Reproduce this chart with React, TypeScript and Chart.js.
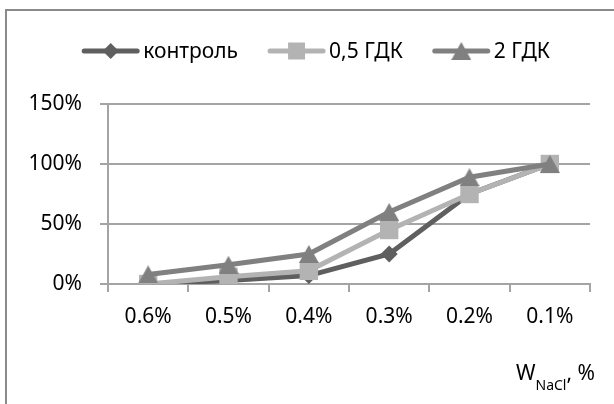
import React, { useEffect, useRef } from 'react';
import { Chart, registerables } from 'chart.js';
import { drawPoint } from 'chart.js/helpers';

Chart.register(...registerables);

// NaCl mass fraction categories (x axis)
const categories = ['0.6%', '0.5%', '0.4%', '0.3%', '0.2%', '0.1%'];

// Series values, %
const seriesNames = ['контроль', '0,5 ГДК', '2 ГДК'];
const control = [0, 3, 7, 25, 75, 100];
const gdk05 = [0, 6, 11, 45, 75, 100];
const gdk2 = [8, 16, 25, 60, 89, 100];

// Value axis
const yMin = 0;
const yMax = 150;
const yStep = 50;

const FONT = '"Noto Sans", "Open Sans", sans-serif';
const COLORS = ['#5f5f5f', '#b3b3b3', '#808080'];
const GRID = '#a4a4a4';

function triangleImage(color: string, w: number, h: number): HTMLCanvasElement {
  const c = document.createElement('canvas');
  c.width = w;
  c.height = h;
  const g = c.getContext('2d')!;
  g.fillStyle = color;
  g.beginPath();
  g.moveTo(w / 2, 0);
  g.lineTo(w, h);
  g.lineTo(0, h);
  g.closePath();
  g.fill();
  return c;
}

// White background and the outer frame
const framePlugin = {
  id: 'frame',
  beforeDraw(chart: any) {
    const ctx = chart.ctx;
    ctx.save();
    ctx.fillStyle = '#ffffff';
    ctx.fillRect(0, 0, chart.width, chart.height);
    ctx.strokeStyle = '#8a8a8a';
    ctx.lineWidth = 2;
    ctx.strokeRect(6, 10, chart.width + 20, chart.height + 20);
    ctx.restore();
  },
};

// Legend with a line sample and marker for every series
const lineLegendPlugin = {
  id: 'lineLegend',
  afterDraw(chart: any) {
    const ctx = chart.ctx;
    const y = 51;
    const sampleLen = 57;
    const textGap = 4;
    const itemGap = 30;
    ctx.save();
    ctx.font = `21px ${FONT}`;
    ctx.textBaseline = 'middle';
    const datasets = chart.data.datasets;
    const widths = datasets.map((d: any) => sampleLen + textGap + ctx.measureText(d.label).width);
    const total = widths.reduce((a: number, b: number) => a + b, 0) + itemGap * (datasets.length - 1);
    let x = 316 - total / 2;
    datasets.forEach((d: any, i: number) => {
      ctx.strokeStyle = d.borderColor;
      ctx.lineWidth = 5;
      ctx.lineCap = 'round';
      ctx.beginPath();
      ctx.moveTo(x + 2, y);
      ctx.lineTo(x + sampleLen - 2, y);
      ctx.stroke();
      ctx.fillStyle = d.backgroundColor;
      const r = d.pointStyle === 'rect' ? 12 : 8;
      drawPoint(
        ctx,
        { pointStyle: d.pointStyle, radius: r, rotation: 0, borderWidth: 0 } as any,
        x + sampleLen / 2,
        y
      );
      ctx.fillStyle = '#000000';
      ctx.fillText(d.label, x + sampleLen + textGap, y + 1);
      x += widths[i] + itemGap;
    });
    ctx.restore();
  },
};

// Horizontal axis title with subscript
const axisTitlePlugin = {
  id: 'axisTitle',
  afterDraw(chart: any) {
    const ctx = chart.ctx;
    const area = chart.chartArea;
    const right = area.right + 5;
    const base = area.bottom + 96;
    ctx.save();
    ctx.fillStyle = '#000000';
    ctx.textBaseline = 'alphabetic';
    ctx.font = `21px ${FONT}`;
    const wMain = ctx.measureText('W').width;
    const wTail = ctx.measureText(', %').width;
    ctx.font = `14px ${FONT}`;
    const wSub = ctx.measureText('NaCl').width;
    let x = right - (wMain + wSub + wTail);
    ctx.font = `21px ${FONT}`;
    ctx.fillText('W', x, base);
    x += wMain;
    ctx.font = `14px ${FONT}`;
    ctx.fillText('NaCl', x, base + 10);
    x += wSub;
    ctx.font = `21px ${FONT}`;
    ctx.fillText(', %', x, base);
    ctx.restore();
  },
};

export default function App() {
  const canvasRef = useRef<HTMLCanvasElement | null>(null);

  useEffect(() => {
    const canvas = canvasRef.current;
    if (!canvas) return;
    const tri = triangleImage(COLORS[2], 20, 18);
    const values = [control, gdk05, gdk2];
    const styles: any[] = ['rectRot', 'rect', tri];
    const radii = [8.5, 13, 10];
    const orders = [3, 2, 1];

    const chart = new Chart(canvas, {
      type: 'line',
      data: {
        labels: categories,
        datasets: seriesNames.map((name, i) => ({
          label: name,
          data: values[i],
          borderColor: COLORS[i],
          backgroundColor: COLORS[i],
          borderWidth: 5,
          pointStyle: styles[i],
          pointRadius: radii[i],
          pointBorderWidth: 0,
          pointBackgroundColor: COLORS[i],
          tension: 0,
          order: orders[i],
        })),
      },
      options: {
        animation: false,
        responsive: false,
        devicePixelRatio: 1,
        events: [],
        layout: { padding: { top: 104, right: 24, bottom: 0, left: 0 } },
        plugins: {
          legend: { display: false },
          tooltip: { enabled: false },
          title: { display: false },
        },
        scales: {
          x: {
            offset: true,
            afterFit: (scale: any) => {
              scale.height = 120;
            },
            grid: {
              offset: true,
              drawOnChartArea: false,
              drawTicks: true,
              tickLength: 8,
              color: GRID,
              lineWidth: 2,
            },
            border: { display: true, color: GRID, width: 2 },
            ticks: {
              color: '#000000',
              font: { family: FONT, size: 21 },
              padding: 12,
              maxRotation: 0,
            },
          },
          y: {
            min: yMin,
            max: yMax,
            afterFit: (scale: any) => {
              scale.width = 108;
            },
            grid: {
              color: GRID,
              lineWidth: 2,
              drawTicks: true,
              tickLength: 8,
            },
            border: { display: true, color: GRID, width: 2 },
            ticks: {
              stepSize: yStep,
              color: '#000000',
              font: { family: FONT, size: 21 },
              padding: 18,
              callback: (v: any) => `${v}%`,
            },
          },
        },
      },
      plugins: [framePlugin, lineLegendPlugin, axisTitlePlugin],
    });

    return () => chart.destroy();
  }, []);

  return (
    <div style={{ position: 'fixed', left: 0, top: 0, width: 614, height: 404, background: '#fff' }}>
      <canvas ref={canvasRef} width={614} height={404} style={{ display: 'block' }} />
    </div>
  );
}
